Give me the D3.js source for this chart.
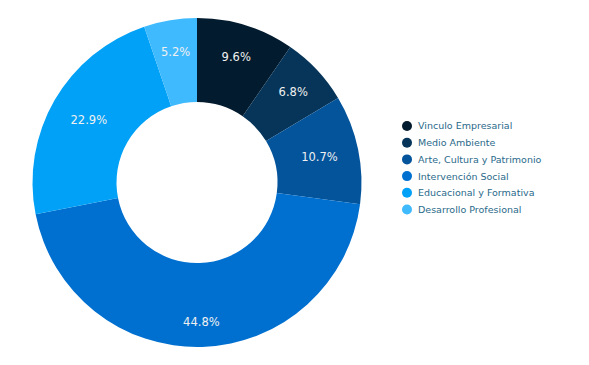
<!DOCTYPE html>
<html>
<head>
<meta charset="utf-8">
<script src="https://cdn.jsdelivr.net/npm/d3@7"></script>
<style>
  body { margin: 0; background: #fff; }
  text { font-family: "DejaVu Sans", Verdana, sans-serif; }
</style>
</head>
<body>
<script>
// data
var categories = ['Vinculo Empresarial', 'Medio Ambiente', 'Arte, Cultura y Patrimonio',
  'Intervención Social', 'Educacional y Formativa', 'Desarrollo Profesional'];
var shares = [9.6, 6.8, 10.7, 44.8, 22.9, 5.2];
var colors = ['#031b2e', '#063559', '#04549c', '#0070d0', '#00a1f6', '#3fbaff'];

var width = 589, height = 365;
var cx = 197, cy = 182.5, outerR = 164.5, innerR = 80.5;

var svg = d3.select('body')
  .append('svg')
  .attr('width', width)
  .attr('height', height);

var data = categories.map(function (c, i) {
  return { name: c, value: shares[i] };
});

var color = d3.scaleOrdinal().domain(categories).range(colors);

var pie = d3.pie()
  .sort(null)
  .value(function (d) { return d.value; });

var arc = d3.arc().innerRadius(innerR).outerRadius(outerR);

// narrow and very wide slices get their label pushed a bit outward
function labelRadius(v) {
  if (v > 30) return 139;
  if (v < 10) return 132;
  return 125;
}

var g = svg.append('g')
  .attr('transform', 'translate(' + cx + ',' + cy + ')');

var slices = g.selectAll('.slice')
  .data(pie(data))
  .enter()
  .append('g')
  .attr('class', 'slice');

slices.append('path')
  .attr('d', arc)
  .style('fill', function (d) { return color(d.data.name); });

slices.append('text')
  .attr('transform', function (d) {
    var r = labelRadius(d.data.value);
    return 'translate(' + d3.arc().innerRadius(r).outerRadius(r).centroid(d) + ')';
  })
  .attr('dy', '0.36em')
  .style('text-anchor', 'middle')
  .style('font-size', '11.5px')
  .style('fill', '#f0f0f0')
  .text(function (d) { return d3.format('.1f')(d.data.value) + '%'; });

var legend = svg.append('g')
  .attr('id', 'legend')
  .attr('transform', 'translate(407,126)');

var item = legend.selectAll('.legend-label')
  .data(categories)
  .enter()
  .append('g')
  .attr('class', 'legend-label')
  .attr('transform', function (d, i) { return 'translate(0,' + (i * 16.7) + ')'; });

item.append('circle')
  .attr('r', 5)
  .style('fill', color);

item.append('text')
  .attr('x', 11)
  .attr('dy', '0.36em')
  .style('font-size', '9.5px')
  .style('fill', '#2a6a8a')
  .text(function (d) { return d; });
</script>
</body>
</html>
